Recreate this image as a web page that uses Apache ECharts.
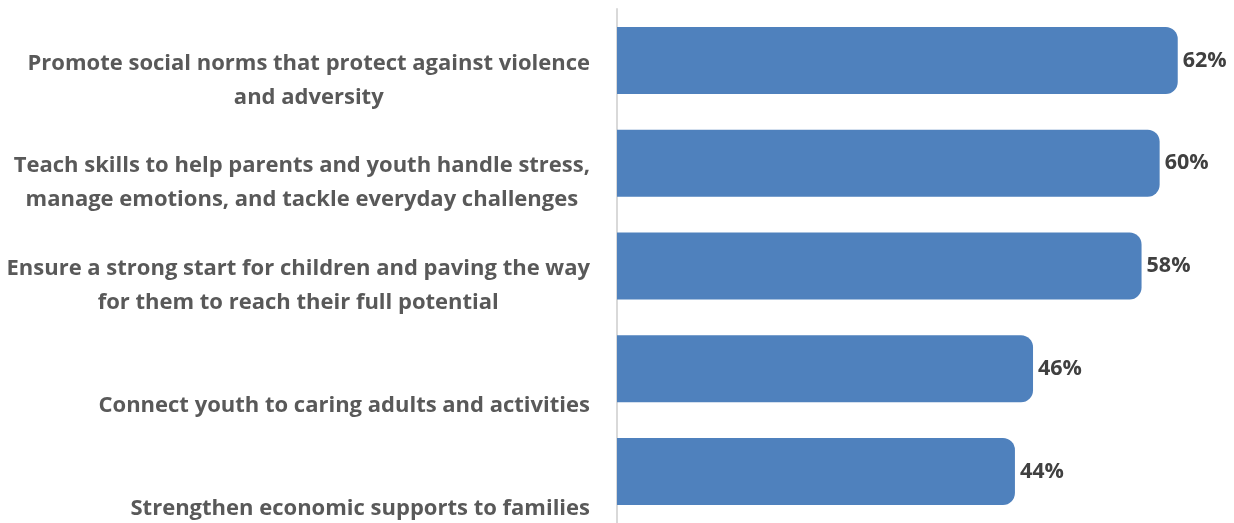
<!DOCTYPE html>
<html>
<head>
<meta charset="utf-8">
<script src="https://cdn.jsdelivr.net/npm/echarts@6/dist/echarts.min.js"></script>
<style>
html,body{margin:0;padding:0;background:#fff;}
#chart{width:1234px;height:523px;}
</style>
</head>
<body>
<div id="chart"></div>
<script>
const categories = [
  "Promote social norms that protect against violence\nand adversity",
  "Teach skills to help parents and youth handle stress,\nmanage emotions, and tackle everyday challenges",
  "Ensure a strong start for children and paving the way\nfor them to reach their full potential",
  "Connect youth to caring adults and activities",
  "Strengthen economic supports to families"
];
const values = [62, 60, 58, 46, 44];

const chart = echarts.init(document.getElementById('chart'), null, {renderer: 'canvas'});
chart.setOption({
  animation: false,
  grid: {left: 617, right: 2, top: 9, bottom: -5, containLabel: false},
  xAxis: {
    type: 'value', min: 0, max: 68, show: false
  },
  yAxis: {
    type: 'category', data: categories, inverse: true,
    axisLine: {show: true, lineStyle: {color: '#d9d9d9', width: 2}},
    axisTick: {show: false},
    axisLabel: {
      margin: 27,
      align: 'right',
      verticalAlign: 'bottom',
      padding: [0, 0, -54, 0],
      formatter: function (v) {
        return v.split('\n').map(function (l) { return '{c|' + l + '}'; }).join('\n');
      },
      rich: {
        c: {align: 'center', fontFamily: 'Open Sans', fontWeight: 'bold', fontSize: 22, color: '#595959', lineHeight: 34}
      }
    }
  },
  series: [{
    type: 'bar',
    data: values,
    barWidth: 67,
    itemStyle: {color: '#4f81bd', borderRadius: [0, 12, 12, 0]},
    label: {
      show: true, position: 'right', distance: 5,
      formatter: '{c}%',
      fontFamily: 'Open Sans', fontWeight: 'bold', fontSize: 21.5, color: '#404040'
    }
  }]
});
</script>
</body>
</html>
